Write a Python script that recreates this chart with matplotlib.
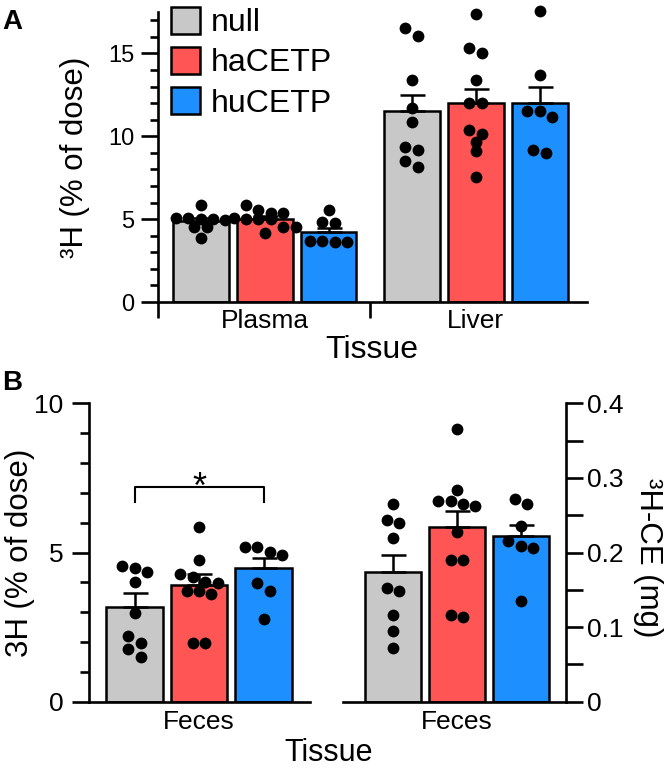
import numpy as np
import matplotlib
matplotlib.use('Agg')
import matplotlib.pyplot as plt
from matplotlib.patches import Patch
from matplotlib.ticker import MultipleLocator, FuncFormatter

plt.rcParams['font.family'] = ['Liberation Sans', 'DejaVu Sans']

# groups and colours
groups = ['null', 'haCETP', 'huCETP']
colors = ['#c8c8c8', '#ff5555', '#1e8fff']

# panel A: 3H in plasma and liver (% of dose)
tissues_a = ['Plasma', 'Liver']
plasma_mean = [4.9, 5.04, 4.2]
plasma_sem = [0.18, 0.15, 0.28]
liver_mean = [11.5, 12.0, 12.0]
liver_sem = [1.0, 0.87, 1.0]
plasma_pts = [
    [5.0, 4.95, 5.85, 4.55, 5.0, 5.05, 4.5, 3.85, 5.1],
    [5.55, 5.4, 5.85, 5.4, 5.05, 5.0, 4.55, 4.15, 4.55, 5.0, 5.0],
    [5.55, 4.75, 4.85, 3.65, 3.7, 3.65, 3.7],
]
liver_pts = [
    [16.04, 16.55, 13.39, 11.68, 10.84, 9.37, 9.17, 8.5, 8.16],
    [17.37, 15.04, 15.36, 13.39, 12.02, 12.02, 10.37, 10.17, 9.67, 9.13, 7.52],
    [17.55, 13.69, 11.54, 11.18, 11.54, 9.17, 9.0],
]

# panel B: feces, % of dose (left) and mg 3H-CE (right)
feces_mean = [3.16, 3.91, 4.47]
feces_sem = [0.47, 0.37, 0.34]
feces_pts = [
    [4.55, 4.36, 4.47, 4.0, 2.96, 2.21, 1.76, 1.49, 1.96],
    [5.87, 4.75, 4.19, 4.27, 4.02, 3.99, 3.71, 3.61, 3.71, 1.96, 1.96],
    [4.92, 5.2, 5.01, 5.2, 3.99, 3.71, 2.77],
]
feces_mg_mean = [0.174, 0.234, 0.2226]
feces_mg_sem = [0.0224, 0.0222, 0.0144]
feces_mg_pts = [
    [0.265, 0.239, 0.243, 0.220, 0.149, 0.153, 0.116, 0.095, 0.072],
    [0.365, 0.284, 0.269, 0.265, 0.262, 0.269, 0.227, 0.190, 0.190, 0.116, 0.113],
    [0.272, 0.265, 0.236, 0.216, 0.209, 0.206, 0.135],
]

pitch = 0.303
width = 0.265
dot_ms = 8.5
dot_px = dot_ms * 100 / 72.0


def swarm(ax, xc, vals):
    # Prism-like scatter: points close in y share a row, spread symmetrically
    vals = np.asarray(vals, float)
    pix = ax.transData.transform(np.column_stack([np.full(len(vals), xc), vals]))[:, 1]
    pxu = ax.transData.transform((xc + 1, 0))[0] - ax.transData.transform((xc, 0))[0]
    order = np.argsort(vals)[::-1]
    offs = np.zeros(len(vals))
    rows = []
    for i in order:
        if rows and rows[-1][0] - pix[i] < dot_px * 0.75:
            rows[-1][1].append(i)
        else:
            rows.append((pix[i], [i]))
    for _, idx in rows:
        n = len(idx)
        for k, i in enumerate(idx):
            offs[i] = (k - (n - 1) / 2) * dot_px * 1.05
    return xc + offs / pxu


def draw_group(ax, xc, means, sems, pts):
    for j in range(3):
        x = xc + (j - 1) * pitch
        ax.bar(x, means[j], width, color=colors[j], edgecolor='black', linewidth=1.8, zorder=2)
        ax.errorbar(x, means[j], yerr=[[0], [sems[j]]], fmt='none', ecolor='black',
                    elinewidth=1.8, capsize=9, capthick=1.8, zorder=3)
        xs = swarm(ax, x, pts[j])
        ax.plot(xs, pts[j], 'o', color='black', ms=dot_ms, mec='none', zorder=4, clip_on=False)


def style(ax):
    for s in ax.spines.values():
        s.set_linewidth(1.9)
    ax.tick_params(which='both', width=1.9)


fig = plt.figure(figsize=(6.67, 7.77), dpi=100)

# ---- panel A
axA = fig.add_axes([0.2369, 0.6113, 0.6432, 0.3732])
axA.set_xlim(-0.505, 1.528)
axA.set_ylim(0, 17.5)
draw_group(axA, 0, plasma_mean, plasma_sem, plasma_pts)
draw_group(axA, 1, liver_mean, liver_sem, liver_pts)
axA.spines['top'].set_visible(False)
axA.spines['right'].set_visible(False)
style(axA)
axA.yaxis.set_major_locator(MultipleLocator(5))
axA.yaxis.set_minor_locator(MultipleLocator(1))
axA.tick_params(axis='y', which='major', length=12, labelsize=17, pad=5)
axA.tick_params(axis='y', which='minor', length=6)
axA.set_xticks([-0.505, 0.5])
axA.set_xticklabels(['', ''])
axA.tick_params(axis='x', which='major', length=11.5)
axA.set_xticks([0, 1], minor=True)
axA.set_xticklabels(tissues_a, minor=True)
axA.tick_params(axis='x', which='minor', length=0, labelsize=19, pad=5)
handles = [Patch(facecolor=c, edgecolor='black', linewidth=1.8) for c in colors]
fig.legend(handles, groups, loc='upper left', bbox_to_anchor=(171 / 667, 1 - 7 / 777),
           frameon=False, fontsize=23, handlelength=0.9, handleheight=0.9,
           handletextpad=0.35, labelspacing=0.28, borderpad=0, borderaxespad=0)
fig.text(75 / 667, 1 - 157 / 777, '³H (% of dose)', rotation=90, ha='center', va='center', fontsize=22.5)
fig.text(372 / 667, 1 - 350 / 777, 'Tissue', ha='center', va='center', fontsize=23)
fig.text(2 / 667, 1 - 22 / 777, 'A', ha='left', va='center', fontsize=20, fontweight='bold')

# ---- panel B, left
axB = fig.add_axes([0.1334, 0.0969, 0.3313, 0.3840])
axB.set_xlim(-0.517, 0.521)
axB.set_ylim(0, 10)
draw_group(axB, 0, feces_mean, feces_sem, feces_pts)
axB.spines['top'].set_visible(False)
axB.spines['right'].set_visible(False)
style(axB)
axB.yaxis.set_major_locator(MultipleLocator(5))
axB.yaxis.set_minor_locator(MultipleLocator(1))
axB.tick_params(axis='y', which='major', length=12.5, labelsize=19, pad=6)
axB.tick_params(axis='y', which='minor', length=6.5)
axB.set_xticks([0])
axB.set_xticklabels(['Feces'])
axB.tick_params(axis='x', length=0, labelsize=19, pad=6)
# significance bracket null vs huCETP
bx = [-pitch, -pitch, pitch, pitch]
axB.plot(bx, [6.7, 7.2, 7.2, 6.7], color='black', lw=1.5, clip_on=False)
axB.text(0, 6.84, '*', ha='center', va='baseline', fontsize=26)
fig.text(20 / 667, 1 - 553 / 777, '3H (% of dose)', rotation=90, ha='center', va='center', fontsize=22.5)

# ---- panel B, right
axC = fig.add_axes([0.5142, 0.0969, 0.3343, 0.3840])
axC.set_xlim(-0.54, 0.517)
axC.set_ylim(0, 0.4)
draw_group(axC, 0, feces_mg_mean, feces_mg_sem, feces_mg_pts)
axC.spines['top'].set_visible(False)
axC.spines['left'].set_visible(False)
style(axC)
axC.yaxis.tick_right()
axC.yaxis.set_major_locator(MultipleLocator(0.1))
axC.yaxis.set_minor_locator(MultipleLocator(0.05))
axC.yaxis.set_major_formatter(FuncFormatter(lambda v, p: '0' if abs(v) < 1e-9 else f'{v:.1f}'))
axC.tick_params(axis='y', which='both', length=12.5, labelsize=19, pad=3)
axC.set_xticks([0])
axC.set_xticklabels(['Feces'])
axC.tick_params(axis='x', length=0, labelsize=19, pad=6)
fig.text(648 / 667, 1 - 558 / 777, '³H-CE (mg)', rotation=270, ha='center', va='center', fontsize=22.5)

fig.text(329 / 667, 1 - 753 / 777, 'Tissue', ha='center', va='center', fontsize=22)
fig.text(2 / 667, 1 - 383 / 777, 'B', ha='left', va='center', fontsize=20, fontweight='bold')

fig.savefig('out.png', dpi=100)
